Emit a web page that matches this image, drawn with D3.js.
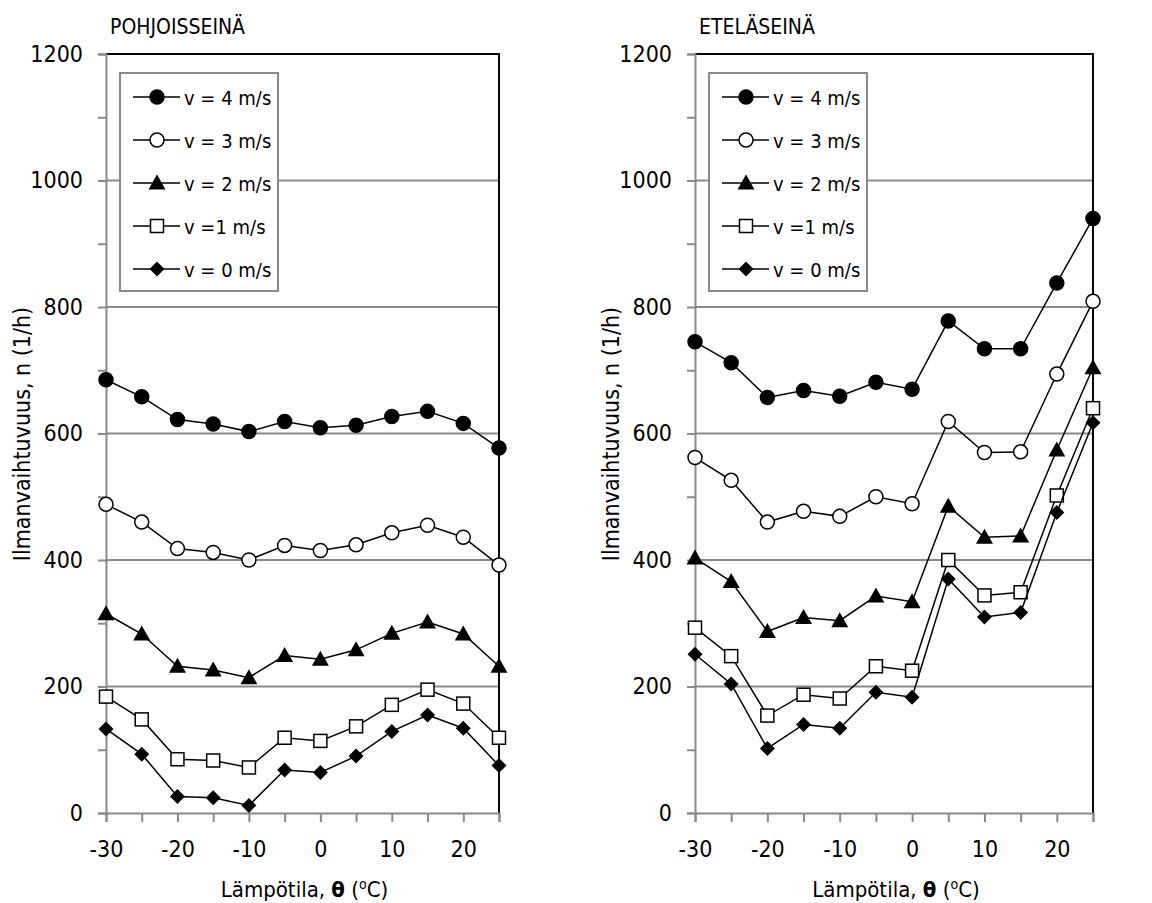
<!DOCTYPE html>
<html>
<head>
<meta charset="utf-8">
<script src="https://cdnjs.cloudflare.com/ajax/libs/d3/7.8.5/d3.min.js"></script>
<style>
  body { margin: 0; background: #fff; }
  text { font-family: "Liberation Sans Narrow", "DejaVu Sans Condensed", "Liberation Sans", sans-serif; fill: #000; }
</style>
</head>
<body>
<script>
// temperatures (x values), same for both panels
var temps = [-30, -25, -20, -15, -10, -5, 0, 5, 10, 15, 20, 25];
var xTicks = [-30, -20, -10, 0, 10, 20];
var yTicks = [0, 200, 400, 600, 800, 1000, 1200];
var seriesNames = ["v = 4 m/s", "v = 3 m/s", "v = 2 m/s", "v =1 m/s", "v = 0 m/s"];
var markers = ["circleFill", "circleOpen", "triangle", "squareOpen", "diamond"];

// POHJOISSEINÄ (north wall)
var north_v4 = [685, 658, 622, 615, 603, 619, 609, 613, 627, 635, 616, 577];
var north_v3 = [488, 460, 418, 412, 400, 423, 415, 424, 443, 455, 436, 392];
var north_v2 = [315, 283, 232, 226, 214, 249, 243, 258, 284, 302, 283, 232];
var north_v1 = [184, 148, 85, 83, 72, 119, 114, 137, 171, 195, 173, 119];
var north_v0 = [133, 93, 26, 24, 12, 68, 64, 90, 129, 155, 134, 75];

// ETELÄSEINÄ (south wall)
var south_v4 = [745, 712, 657, 668, 659, 681, 670, 778, 734, 734, 838, 940];
var south_v3 = [562, 526, 460, 477, 469, 500, 489, 619, 570, 571, 694, 809];
var south_v2 = [403, 366, 287, 309, 304, 343, 334, 485, 436, 438, 574, 704];
var south_v1 = [293, 248, 154, 187, 181, 232, 225, 400, 344, 349, 502, 640];
var south_v0 = [251, 204, 102, 140, 134, 191, 183, 370, 310, 317, 475, 617];

var W = 1152, H = 903;
var svg = d3.select("body").append("svg").attr("width", W).attr("height", H);

var panels = [
    {title: "POHJOISSEINÄ", left: 106, right: 499, top: 54, bottom: 813,
     data: [north_v4, north_v3, north_v2, north_v1, north_v0]},
    {title: "ETELÄSEINÄ", left: 695, right: 1093, top: 54, bottom: 813,
     data: [south_v4, south_v3, south_v2, south_v1, south_v0]}
];

var gridColor = "#898989";
var fontStack = "\"Liberation Sans Narrow\", \"DejaVu Sans Condensed\", sans-serif";

//draw a marker at (0,0) inside group g
function drawMarker(g, type) {
    if (type == "circleFill" || type == "circleOpen") {
        g.append("circle").attr("r", 7)
            .attr("fill", type == "circleFill" ? "#000" : "#fff")
            .attr("stroke", "#000").attr("stroke-width", 1.5);
    } else if (type == "triangle") {
        g.append("path").attr("d", "M0,-8.5L8.5,6.5L-8.5,6.5Z").attr("fill", "#000");
    } else if (type == "squareOpen") {
        g.append("rect").attr("x", -6.5).attr("y", -6.5).attr("width", 13).attr("height", 13)
            .attr("fill", "#fff").attr("stroke", "#000").attr("stroke-width", 1.5);
    } else if (type == "diamond") {
        g.append("path").attr("d", "M0,-7.5L7.5,0L0,7.5L-7.5,0Z").attr("fill", "#000");
    }
}

panels.forEach(function(p) {
    var x = d3.scaleLinear().domain([-30, 25]).range([p.left, p.right]);
    var y = d3.scaleLinear().domain([0, 1200]).range([p.bottom, p.top]);

    var g = svg.append("g");

    //gridlines
    g.selectAll(".grid").data(yTicks.filter(function(d) { return d > 0 && d < 1200; }))
        .enter().append("line")
        .attr("x1", p.left).attr("x2", p.right)
        .attr("y1", function(d) { return y(d); }).attr("y2", function(d) { return y(d); })
        .attr("stroke", gridColor).attr("stroke-width", 2);

    //frame top + right (black)
    g.append("path")
        .attr("d", "M" + p.left + "," + y(1200) + "H" + p.right + "V" + p.bottom)
        .attr("fill", "none").attr("stroke", "#000").attr("stroke-width", 2);

    //y axis
    var yAxis = d3.axisLeft(y).tickValues(d3.range(0, 1201, 100)).tickSize(8)
        .tickFormat(function(d) { return d % 200 == 0 ? d : ""; }).tickPadding(15);
    var ya = g.append("g").attr("transform", "translate(" + p.left + ",0)").call(yAxis);
    ya.select(".domain").attr("stroke", gridColor).attr("stroke-width", 2);
    ya.selectAll(".tick line").attr("stroke", gridColor).attr("stroke-width", 2);
    ya.selectAll(".tick text").style("font-size", "23px").attr("fill", "#000")
        .style("font-family", fontStack);

    //x axis
    var xAxis = d3.axisBottom(x).tickValues(temps).tickSize(9)
        .tickFormat(function(d) { return xTicks.indexOf(d) >= 0 ? d : ""; }).tickPadding(19);
    var xa = g.append("g").attr("transform", "translate(0," + p.bottom + ")").call(xAxis);
    xa.select(".domain").attr("stroke", gridColor).attr("stroke-width", 2);
    xa.selectAll(".tick line").attr("stroke", gridColor).attr("stroke-width", 2);
    xa.selectAll(".tick text").style("font-size", "23px").attr("fill", "#000")
        .style("font-family", fontStack);

    //title
    g.append("text").attr("x", p.left + 4).attr("y", 34)
        .style("font-size", "21px").text(p.title);

    //axis titles
    var xl = g.append("text").attr("x", (p.left + p.right) / 2 + 2).attr("y", 897)
        .attr("text-anchor", "middle").style("font-size", "22px");
    xl.append("tspan").text("Lämpötila, ");
    xl.append("tspan").style("font-weight", "bold").text("θ");
    xl.append("tspan").text(" (");
    xl.append("tspan").attr("dy", -8).style("font-size", "14px").text("o");
    xl.append("tspan").attr("dy", 8).text("C)");

    g.append("text")
        .attr("transform", "translate(" + (p.left - 76) + "," + 434 + ") rotate(-90)")
        .attr("text-anchor", "middle").style("font-size", "23px")
        .text("Ilmanvaihtuvuus, n (1/h)");

    //series
    var line = d3.line()
        .x(function(d, i) { return x(temps[i]); })
        .y(function(d) { return y(d); });

    p.data.forEach(function(vals, si) {
        g.append("path").attr("d", line(vals))
            .attr("fill", "none").attr("stroke", "#000").attr("stroke-width", 1.5);
        vals.forEach(function(v, i) {
            var m = g.append("g").attr("transform", "translate(" + x(temps[i]) + "," + y(v) + ")");
            drawMarker(m, markers[si]);
        });
    });

    //legend
    var lx = p.left + 14, ly = 73;
    var lg = g.append("g").attr("transform", "translate(" + lx + "," + ly + ")");
    lg.append("rect").attr("width", 158).attr("height", 218)
        .attr("fill", "#fff").attr("stroke", gridColor).attr("stroke-width", 2);
    seriesNames.forEach(function(name, i) {
        var yy = 24 + i * 43;
        lg.append("line").attr("x1", 13).attr("x2", 60).attr("y1", yy).attr("y2", yy)
            .attr("stroke", "#000").attr("stroke-width", 1.5);
        drawMarker(lg.append("g").attr("transform", "translate(37," + yy + ")"), markers[i]);
        lg.append("text").attr("x", 64).attr("y", yy + 8).style("font-size", "20px").text(name);
    });
});
</script>
</body>
</html>
